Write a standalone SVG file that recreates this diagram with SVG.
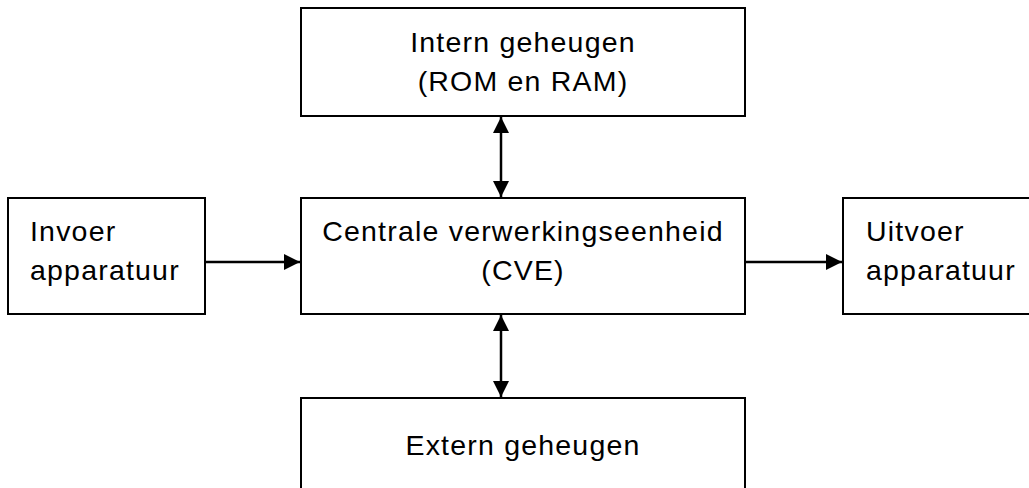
<svg xmlns="http://www.w3.org/2000/svg" width="1029" height="488" viewBox="0 0 1029 488">
<style>
.box{fill:#fff;stroke:#000;stroke-width:2}
.t{font-family:"Liberation Sans",Arial,sans-serif;font-size:28.5px;letter-spacing:1.2px;fill:#000}
.c{text-anchor:middle}
.con{stroke:#000;stroke-width:2.5;fill:none}
</style>
<defs>
<marker id="ah" viewBox="0 0 16 16" refX="16" refY="8" markerWidth="16" markerHeight="16" markerUnits="userSpaceOnUse" orient="auto-start-reverse">
<path d="M0,0 L16,8 L0,16 Z" fill="#000"/>
</marker>
</defs>
<g id="intern"><rect class="box" x="301" y="8" width="444" height="108"/>
<text class="t c" x="523" y="52">Intern geheugen</text>
<text class="t c" x="523" y="91">(ROM en RAM)</text></g>
<g id="cve"><rect class="box" x="301" y="198" width="444" height="116"/>
<text class="t c" x="523" y="241">Centrale verwerkingseenheid</text>
<text class="t c" x="523" y="280">(CVE)</text></g>
<g id="invoer"><rect class="box" x="8" y="198" width="197" height="116"/>
<text class="t" x="30" y="241">Invoer</text>
<text class="t" x="30" y="280">apparatuur</text></g>
<g id="uitvoer"><rect class="box" x="843" y="198" width="200" height="116"/>
<text class="t" x="866" y="241">Uitvoer</text>
<text class="t" x="866" y="280">apparatuur</text></g>
<g id="extern"><rect class="box" x="301" y="398" width="444" height="110"/>
<text class="t c" x="523" y="455">Extern geheugen</text></g>
<g id="connectors">
<line class="con" x1="205" y1="262" x2="300" y2="262" marker-end="url(#ah)"/>
<line class="con" x1="746" y1="262" x2="842" y2="262" marker-end="url(#ah)"/>
<line class="con" x1="501" y1="117" x2="501" y2="197" marker-start="url(#ah)" marker-end="url(#ah)"/>
<line class="con" x1="501" y1="315" x2="501" y2="397" marker-start="url(#ah)" marker-end="url(#ah)"/>
</g>
</svg>
